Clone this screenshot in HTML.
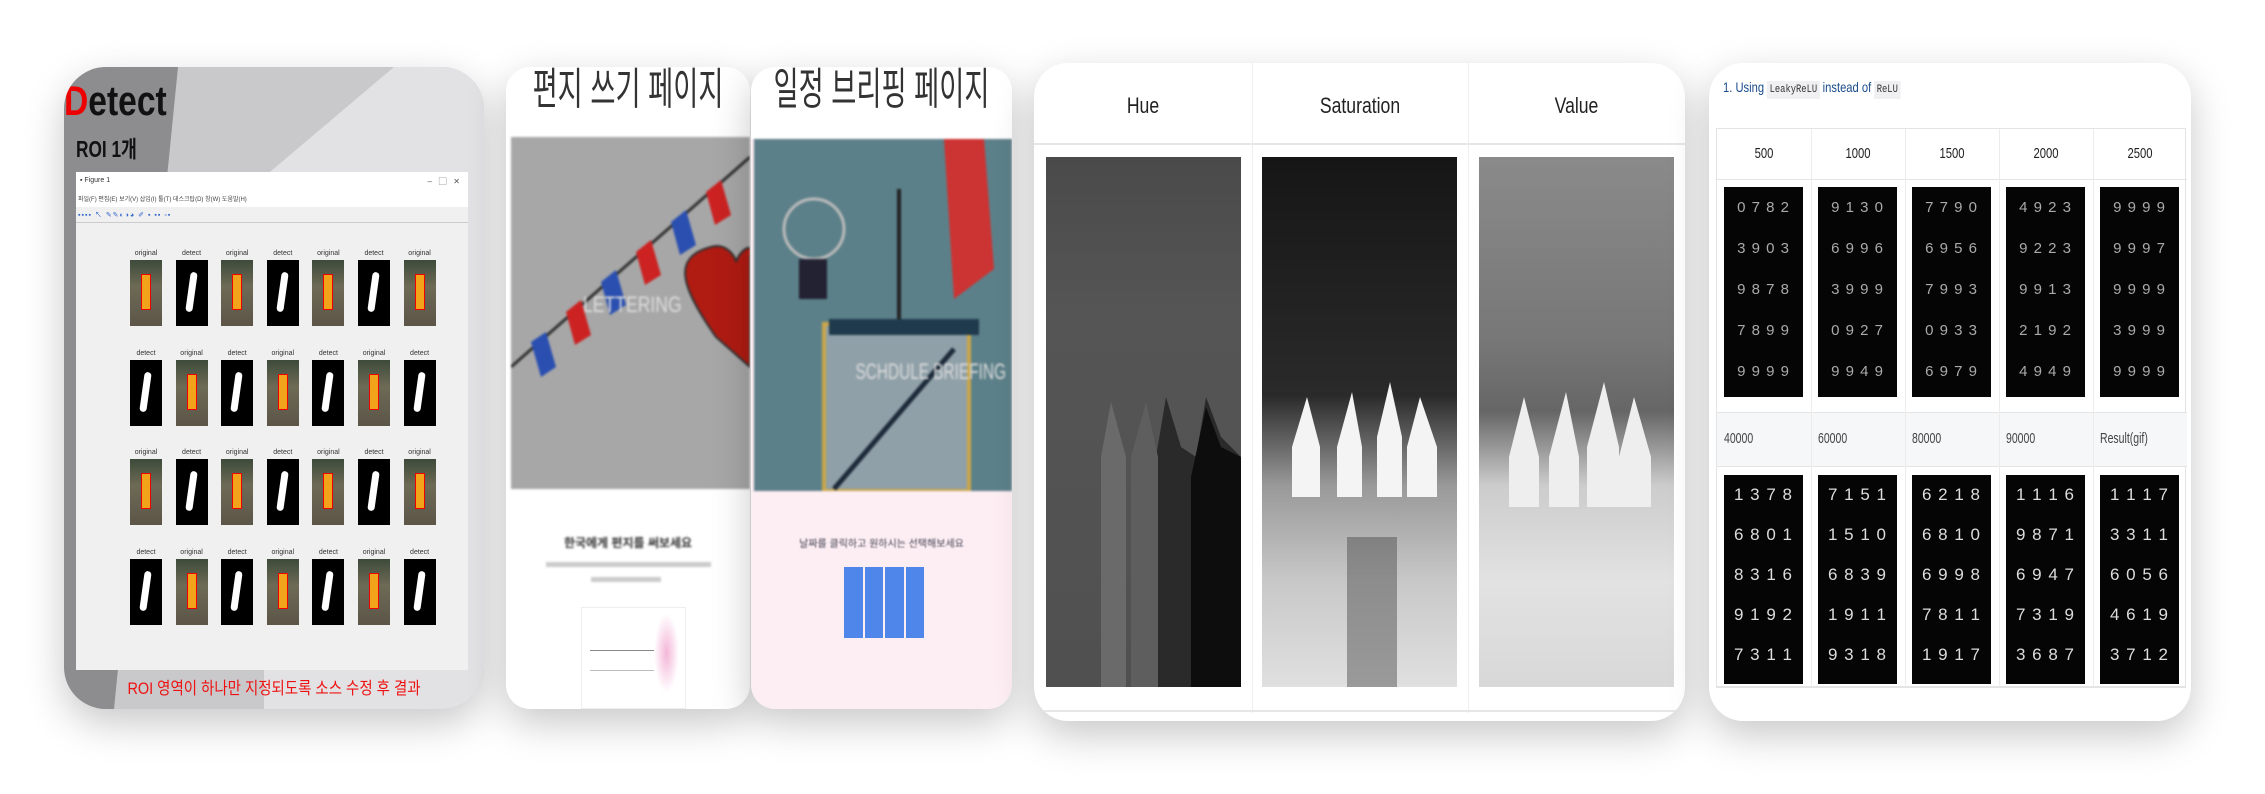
<!DOCTYPE html>
<html><head><meta charset="utf-8">
<style>
*{margin:0;padding:0;box-sizing:border-box}
body{width:2265px;height:794px;background:#fff;position:relative;overflow:hidden;font-family:"Liberation Sans","Noto Sans CJK KR",sans-serif}
.card{position:absolute;overflow:hidden;box-shadow:0 14px 40px rgba(0,0,0,0.22);background:#fff}
.abs{position:absolute}
.kr{font-family:"Liberation Sans","Noto Sans CJK KR",sans-serif;white-space:nowrap}
.cap{position:absolute;font-size:7px;color:#333;text-align:center;width:40px}
.thumb{position:absolute;width:32px;height:66px;background:#000}
.dg{position:absolute;background:#050505;color:#ddd;font-family:"Liberation Sans",sans-serif;font-size:17px;line-height:40px;letter-spacing:1px;text-align:center;overflow:hidden;white-space:pre}
</style></head><body>

<!-- Card 1 -->
<div class="card" style="left:64px;top:67px;width:420px;height:642px;border-radius:42px;background:#c9c9cb">
  <svg class="abs" style="left:0;top:0" width="420" height="642">
    <polygon points="0,0 114,0 50,642 0,642" fill="#8d8d90"/>
    <polygon points="330,0 420,0 420,642 200,642 200,110" fill="#e2e2e4"/>
  </svg>
  <div class="abs" style="left:0;top:10px;font-size:42px;font-weight:bold;color:#111;transform:scaleX(0.8);transform-origin:left"><span style="color:#e00">D</span>etect</div>
  <div class="abs kr" style="left:12px;top:63px;font-size:23px;font-weight:bold;color:#111;transform:scaleX(0.75);transform-origin:left">ROI 1개</div>
  <div class="abs" style="left:12px;top:105px;width:392px;height:498px;background:#f0f0f0">
    <div class="abs" style="left:0;top:0;width:392px;height:35px;background:#fff"></div>
    <div class="abs" style="left:4px;top:5px;font-size:7px;color:#333">▪ Figure 1</div>
    <div class="abs" style="right:8px;top:4px;font-size:8px;color:#555">–&nbsp;&nbsp;&nbsp;▢&nbsp;&nbsp;&nbsp;✕</div>
    <div class="abs kr" style="left:2px;top:22px;font-size:6px;color:#444">파일(F) 편집(E) 보기(V) 삽입(I) 툴(T) 데스크탑(D) 창(W) 도움말(H)</div>
    <div class="abs" style="left:2px;top:38px;font-size:7px;color:#36c;letter-spacing:1px">▪▪▪▪ ↖ ✎✎◐◑◕ ✐ ▪ ▪▪ ▫▪</div>
    <div class="abs" style="left:0;top:50px;width:392px;height:1px;background:#ccc"></div>
    <div id="grid1"></div>
  </div>
  <div class="abs kr" style="left:0;width:420px;top:607px;text-align:center;font-size:17px;color:#e11;transform:scaleX(0.85)">ROI 영역이 하나만 지정되도록 소스 수정 후 결과</div>
</div>

<!-- Card 2 -->
<div class="card" style="left:506px;top:67px;width:244px;height:642px;border-radius:24px">
  <div class="abs kr" style="left:-50px;width:344px;top:-14px;text-align:center;font-size:44px;color:#333;transform:scaleX(0.62)">편지 쓰기 페이지</div>
  <div class="abs" style="left:5px;top:70px;width:239px;height:352px;background:#a7a7a7;filter:blur(1px)">
    <svg width="239" height="352">
      <line x1="0" y1="230" x2="239" y2="20" stroke="#333" stroke-width="3"/>
      <polygon points="20,205 35,195 45,230 30,240" fill="#2a4fb0"/>
      <polygon points="55,175 70,163 80,198 64,208" fill="#c22"/>
      <polygon points="90,145 105,133 115,168 99,178" fill="#2a4fb0"/>
      <polygon points="125,115 140,103 150,138 134,148" fill="#c22"/>
      <polygon points="160,85 175,73 185,108 169,118" fill="#2a4fb0"/>
      <polygon points="195,55 210,43 220,78 204,88" fill="#c22"/>
      <path d="M205,200 C170,150 160,120 200,110 C215,105 225,120 225,125 C230,110 245,105 239,120 L239,230 Z" fill="#b01b12" stroke="#333" stroke-width="2"/>
      <text x="90" y="175" font-size="22" fill="#ddd" font-family="Liberation Sans" transform="scale(0.8,1)">LETTERING</text>
    </svg>
  </div>
  <div class="abs kr" style="left:0;width:244px;top:467px;text-align:center;font-size:12px;font-weight:bold;color:#333;filter:blur(1px)">한국에게 편지를 써보세요</div>
  <div class="abs" style="left:40px;top:495px;width:165px;height:5px;background:#ccc;filter:blur(1px)"></div>
  <div class="abs" style="left:85px;top:510px;width:70px;height:5px;background:#ccc;filter:blur(1px)"></div>
  <div class="abs" style="left:75px;top:540px;width:105px;height:102px;border:1px solid #eee;background:#fff">
    <div class="abs" style="left:8px;top:42px;width:80px;height:1px;background:#888"></div>
    <div class="abs" style="left:8px;top:62px;width:80px;height:1px;background:#bbb"></div>
    <div class="abs" style="left:72px;top:5px;width:25px;height:80px;background:radial-gradient(#f4b6d8,#fff 70%)"></div>
  </div>
</div>

<!-- Card 3 -->
<div class="card" style="left:751px;top:67px;width:261px;height:642px;border-radius:24px;background:#fdeef3">
  <div class="abs" style="left:0;top:0;width:261px;height:72px;background:#fff"></div>
  <div class="abs kr" style="left:-50px;width:361px;top:-14px;text-align:center;font-size:44px;color:#333;transform:scaleX(0.62)">일정 브리핑 페이지</div>
  <div class="abs" style="left:3px;top:72px;width:258px;height:352px;background:#5c8089;filter:blur(1px)">
    <svg width="258" height="352">
      <circle cx="60" cy="90" r="30" fill="none" stroke="#bbb" stroke-width="3"/>
      <rect x="45" y="120" width="28" height="40" fill="#223"/>
      <line x1="145" y1="50" x2="145" y2="190" stroke="#222" stroke-width="4"/>
      <polygon points="190,0 230,0 240,130 200,160" fill="#c33"/>
      <polygon points="70,185 215,185 215,352 70,352" fill="#8fa0a8" stroke="#c9a64a" stroke-width="4"/>
      <rect x="75" y="180" width="150" height="16" fill="#1f3a4c"/>
      <line x1="80" y1="350" x2="200" y2="210" stroke="#1d2a3a" stroke-width="5"/>
      <text x="145" y="240" font-size="22" fill="#ddd" font-family="Liberation Sans" transform="scale(0.7,1)">SCHDULE BRIEFING</text>
    </svg>
  </div>
  <div class="abs kr" style="left:0;width:261px;top:468px;text-align:center;font-size:10px;color:#445;filter:blur(0.8px)">날짜를 클릭하고 원하시는 선택해보세요</div>
  <div class="abs" style="left:93px;top:500px;width:80px;height:71px;display:flex;gap:2px">
    <div style="flex:1;background:#4f86ea"></div><div style="flex:1;background:#4f86ea"></div><div style="flex:1;background:#4f86ea"></div><div style="flex:1;background:#4f86ea"></div>
  </div>
</div>

<!-- Card 4 -->
<div class="card" style="left:1034px;top:63px;width:651px;height:658px;border-radius:34px">
  <div class="abs" style="left:0;top:80px;width:651px;height:2px;background:#e6e6e8"></div>
  <div class="abs" style="left:218px;top:0;width:1px;height:650px;background:#eee"></div>
  <div class="abs" style="left:434px;top:0;width:1px;height:650px;background:#eee"></div>
  <div class="abs" style="left:0;top:647px;width:651px;height:2px;background:#e6e6e8"></div>
  <div class="abs" style="left:0;width:218px;top:30px;text-align:center;font-size:22px;color:#222;transform:scaleX(0.8)">Hue</div>
  <div class="abs" style="left:218px;width:216px;top:30px;text-align:center;font-size:22px;color:#222;transform:scaleX(0.8)">Saturation</div>
  <div class="abs" style="left:434px;width:217px;top:30px;text-align:center;font-size:22px;color:#222;transform:scaleX(0.8)">Value</div>
  <div class="abs" style="left:12px;top:94px;width:195px;height:530px;background:linear-gradient(180deg,#4a4a4a 0%,#555 30%,#505050 100%)">
    <svg width="195" height="530">
      <path d="M100,530 L100,350 L110,300 L120,240 L135,290 L150,300 L160,240 L175,280 L195,300 L195,530Z" fill="#2a2a2a"/>
      <path d="M145,530 L145,320 L160,250 L175,290 L195,300 L195,530Z" fill="#0d0d0d"/>
      <path d="M55,300 L65,245 L80,300 L80,530 L55,530Z" fill="#6a6a6a"/>
      <path d="M85,300 L100,245 L112,300 L112,530 L85,530Z" fill="#5e5e5e"/>
    </svg>
  </div>
  <div class="abs" style="left:228px;top:94px;width:195px;height:530px;background:linear-gradient(180deg,#161616 0%,#2a2a2a 45%,#999 62%,#c8c8c8 80%,#e0e0e0 100%)">
    <svg width="195" height="530"><g fill="#f4f4f4"><path d="M30,290 L45,240 L58,290 L58,340 L30,340Z"/><path d="M75,290 L90,235 L100,290 L100,340 L75,340Z"/><path d="M115,280 L128,225 L140,280 L140,340 L115,340Z"/><path d="M145,290 L158,240 L175,290 L175,340 L145,340Z"/></g><rect x="85" y="380" width="50" height="150" fill="#444" opacity="0.45"/></svg>
  </div>
  <div class="abs" style="left:445px;top:94px;width:195px;height:530px;background:linear-gradient(180deg,#8a8a8a 0%,#777 35%,#666 48%,#ccc 62%,#e2e2e2 80%,#d8d8d8 100%)">
    <svg width="195" height="530"><g fill="#eee"><path d="M30,300 L45,240 L60,300 L60,350 L30,350Z"/><path d="M70,300 L87,235 L100,300 L100,350 L70,350Z"/><path d="M108,290 L125,225 L140,290 L140,350 L108,350Z"/><path d="M140,300 L155,240 L172,300 L172,350 L140,350Z"/></g></svg>
  </div>
</div>

<!-- Card 5 -->
<div class="card" style="left:1709px;top:63px;width:482px;height:658px;border-radius:34px">
  <div class="abs" style="left:14px;top:16px;font-size:14px;color:#1a4b8c;transform:scaleX(0.8);transform-origin:left;white-space:nowrap">1. Using <span style="background:#f0f0f2;color:#333;font-family:'Liberation Mono',monospace;font-size:11px;padding:3px 3px">LeakyReLU</span> instead of <span style="background:#f0f0f2;color:#333;font-family:'Liberation Mono',monospace;font-size:11px;padding:3px 3px">ReLU</span></div>
  <div class="abs" style="left:7px;top:65px;width:470px;height:560px;border:1px solid #e4e4e4;border-bottom:2px solid #e4e4e4">
    <div class="abs" style="left:0;top:50px;width:470px;height:1px;background:#e4e4e4"></div>
    <div class="abs" style="left:0;top:283px;width:470px;height:55px;background:#f6f7f9;border-top:1px solid #e4e4e4;border-bottom:1px solid #e4e4e4"></div>
    <div id="grid5"></div>
  </div>
</div>

<script>
var detectLabels = ["original","detect","original","detect","original","detect","original"];
var g1 = document.getElementById('grid1');
for (var r = 0; r < 4; r++) {
  for (var c = 0; c < 7; c++) {
    var isOrig = ((r + c) % 2 === 0);
    var x = 54 + c * 45.6, y = 88 + r * 99.5;
    var cap = document.createElement('div');
    cap.className = 'cap';
    cap.style.left = (x - 4) + 'px'; cap.style.top = (y - 10) + 'px';
    cap.textContent = isOrig ? 'original' : 'detect';
    
    
    g1.appendChild(cap);
    var t = document.createElement('div');
    t.className = 'thumb';
    t.style.left = x + 'px'; t.style.top = y + 'px';
    if (isOrig) {
      t.style.background = 'linear-gradient(180deg,#3d4a3a 0%,#6d6a55 40%,#5c5548 100%)';
      t.innerHTML = '<div style="position:absolute;left:11px;top:14px;width:10px;height:36px;background:#f2a31a;border:1px solid #e00"></div>';
    } else {
      t.innerHTML = '<div style="position:absolute;left:12px;top:12px;width:7px;height:40px;background:#fff;border-radius:4px;transform:rotate(8deg)"></div>';
    }
    
    
    g1.appendChild(t);
  }
}
var headers1 = ["500","1000","1500","2000","2500"];
var headers2 = ["40000","60000","80000","90000","Result(gif)"];
var digits1 = ["0 7 8 2\n3 9 0 3\n9 8 7 8\n7 8 9 9\n9 9 9 9","9 1 3 0\n6 9 9 6\n3 9 9 9\n0 9 2 7\n9 9 4 9","7 7 9 0\n6 9 5 6\n7 9 9 3\n0 9 3 3\n6 9 7 9","4 9 2 3\n9 2 2 3\n9 9 1 3\n2 1 9 2\n4 9 4 9","9 9 9 9\n9 9 9 7\n9 9 9 9\n3 9 9 9\n9 9 9 9"];
var digits2 = ["1 3 7 8\n6 8 0 1\n8 3 1 6\n9 1 9 2\n7 3 1 1","7 1 5 1\n1 5 1 0\n6 8 3 9\n1 9 1 1\n9 3 1 8","6 2 1 8\n6 8 1 0\n6 9 9 8\n7 8 1 1\n1 9 1 7","1 1 1 6\n9 8 7 1\n6 9 4 7\n7 3 1 9\n3 6 8 7","1 1 1 7\n3 3 1 1\n6 0 5 6\n4 6 1 9\n3 7 1 2"];
var g5 = document.getElementById('grid5');
for (var i = 0; i < 5; i++) {
  var cx = i * 94;
  if (i > 0) {
    var sep = document.createElement('div');
    sep.className = 'abs';
    sep.style.cssText = 'left:' + cx + 'px;top:0;width:1px;height:558px;background:#ececec';
    
    
    g5.appendChild(sep);
  }
  var h = document.createElement('div');
  h.className = 'abs';
  h.style.cssText = 'left:' + cx + 'px;width:94px;top:16px;text-align:center;font-size:15px;color:#222;transform:scaleX(0.75)';
  h.textContent = headers1[i];
  
  
  g5.appendChild(h);
  var h2 = document.createElement('div');
  h2.className = 'abs';
  h2.style.cssText = 'left:' + (cx + 7) + 'px;top:301px;font-size:15px;color:#444;transform:scaleX(0.7);transform-origin:left;white-space:nowrap';
  h2.textContent = headers2[i];
  
  
  g5.appendChild(h2);
  var d1 = document.createElement('div');
  d1.className = 'dg';
  d1.style.cssText = 'left:' + (cx + 7) + 'px;top:58px;width:79px;height:210px;font-size:15px;line-height:41px;color:#aaa';
  d1.textContent = digits1[i];
  
  
  g5.appendChild(d1);
  var d2 = document.createElement('div');
  d2.className = 'dg';
  d2.style.cssText = 'left:' + (cx + 7) + 'px;top:346px;width:79px;height:209px;';
  d2.textContent = digits2[i];
  
  
  g5.appendChild(d2);
}
</script>
</body></html>
